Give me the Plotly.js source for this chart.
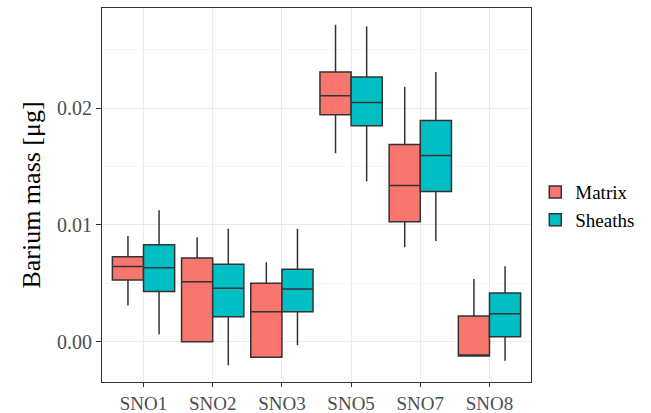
<!DOCTYPE html>
<html>
<head>
<meta charset="utf-8">
<script src="https://cdn.plot.ly/plotly-3.0.1.min.js"></script>
<style>html,body{margin:0;padding:0;background:#fff;}#chart{width:651px;height:413px;}</style>
</head>
<body>
<div id="chart"></div>
<script>
var categories = ["SNO1", "SNO2", "SNO3", "SNO5", "SNO7", "SNO8"];

var matrixLower  = [0.00309, 0.00000, -0.00134, 0.01614, 0.00809, -0.00123];
var matrixQ1     = [0.00529, 0.00000, -0.00134, 0.01943, 0.01026, -0.00123];
var matrixMedian = [0.00643, 0.00514,  0.00257, 0.02105, 0.01337, -0.00123];
var matrixQ3     = [0.00728, 0.00717,  0.00500, 0.02308, 0.01688,  0.00220];
var matrixUpper  = [0.00906, 0.00895,  0.00680, 0.02714, 0.02182,  0.00537];

var sheathsLower  = [0.00063, -0.00202, -0.00031, 0.01374, 0.00863, -0.00163];
var sheathsQ1     = [0.00429,  0.00214,  0.00257, 0.01848, 0.01285,  0.00043];
var sheathsMedian = [0.00634,  0.00458,  0.00452, 0.02048, 0.01594,  0.00240];
var sheathsQ3     = [0.00829,  0.00663,  0.00620, 0.02266, 0.01894,  0.00417];
var sheathsUpper  = [0.01126,  0.00966,  0.00968, 0.02699, 0.02308,  0.00646];

var yTicks = [0, 0.01, 0.02];
var yTickText = ["0.00", "0.01", "0.02"];

var serif = "Liberation Serif";

function boxTrace(name, color, lo, q1, med, q3, up) {
  return {
    type: "box", name: name, x: categories,
    lowerfence: lo, q1: q1, median: med, q3: q3, upperfence: up,
    fillcolor: color,
    line: {color: "#333333", width: 1.5},
    whiskerwidth: 0,
    boxpoints: false,
    hoverinfo: "skip"
  };
}

var data = [
  boxTrace("Matrix", "#F8766D", matrixLower, matrixQ1, matrixMedian, matrixQ3, matrixUpper),
  boxTrace("Sheaths", "#00BFC4", sheathsLower, sheathsQ1, sheathsMedian, sheathsQ3, sheathsUpper)
];

var layout = {
  width: 651, height: 413,
  margin: {l: 102, r: 120, t: 8, b: 31},
  paper_bgcolor: "#ffffff", plot_bgcolor: "#ffffff",
  font: {family: serif, color: "#000"},
  boxmode: "group", boxgap: 0.1, boxgroupgap: 0,
  showlegend: true,
  legend: {x: 1.01, y: 0.47, xanchor: "left", yanchor: "middle",
           font: {family: serif, size: 19, color: "#000"}, tracegroupgap: 0, itemwidth: 30,
           bgcolor: "rgba(0,0,0,0)"},
  xaxis: {
    type: "category", range: [-0.6, 5.6],
    showgrid: true, gridcolor: "#ebebeb", gridwidth: 1,
    showline: true, linecolor: "#333333", linewidth: 1, mirror: true,
    ticks: "outside", ticklen: 4, tickcolor: "#333333",
    tickfont: {family: serif, size: 19, color: "#4d4d4d"}, zeroline: false
  },
  yaxis: {
    range: [-0.00345, 0.02857],
    tickvals: yTicks, ticktext: yTickText,
    showgrid: true, gridcolor: "#ebebeb", gridwidth: 1,
    minor: {dtick: 0.005, tick0: 0, showgrid: true, gridcolor: "#f2f2f2", gridwidth: 0.7, ticks: ""},
    showline: true, linecolor: "#333333", linewidth: 1, mirror: true,
    ticks: "outside", ticklen: 5, tickcolor: "#333333",
    tickfont: {family: serif, size: 20, color: "#4d4d4d"}, zeroline: false,
    title: {text: "Barium mass [μg]", font: {family: serif, size: 26, color: "#000"}, standoff: 8}
  }
};

Plotly.newPlot("chart", data, layout, {displayModeBar: false, staticPlot: true});
</script>
</body>
</html>
